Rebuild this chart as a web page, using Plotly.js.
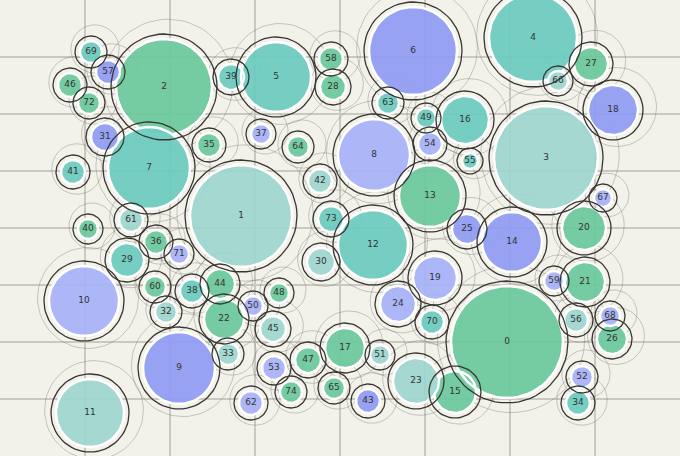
<!DOCTYPE html>
<html>
<head>
<meta charset="utf-8">
<script src="https://cdn.plot.ly/plotly-3.0.1.min.js"></script>
<style>html,body{margin:0;padding:0;background:#f3f2ea;}#chart{width:680px;height:456px;}</style>
</head>
<body>
<div id="chart"></div>
<script>
// Bubble ids, centres, radii and colour groups
const ids = [0,1,2,3,4,5,6,7,8,9,10,11,12,13,14,15,16,17,18,19,20,21,22,23,24,25,26,27,28,29,30,31,32,33,34,35,36,37,38,39,40,41,42,43,44,45,46,47,48,49,50,51,52,53,54,55,56,57,58,59,60,61,62,63,64,65,66,67,68,69,70,71,72,73,74];
const cx = [507,241,164,546,533,276,413,149,374,179,84,90,373,430,512,455,465,345,613,435,584,585,224,416,398,467,612,591,333,127,321,105,166,228,578,209,156,261,192,231,88,73,320,368,220,273,70,308,279,426,253,380,582,274,430,470,576,108,331,554,155,131,251,388,298,334,558,603,610,91,432,179,89,331,291];
const cy = [342,216,87,158,38,77,51,168,155,368,301,413,245,196,242,392,120,348,110,278,228,282,319,381,304,229,339,64,87,260,262,137,312,354,403,145,242,134,291,77,229,172,181,401,284,329,85,360,293,118,306,355,377,368,144,161,320,72,59,281,287,220,403,103,147,388,81,198,316,52,322,254,103,219,392];
const radius = [56,51,48,52,44,35,44,41,36,36,35,34,35,31,30,21,24,20,25,22,22,20,20,23,18,15,15,17,13,17,14,14,11,11,12,12,12,10,12,13,10,12,12,12,15,13,12,13,10,10,10,10,11,12,12,8,12,12,12,10,11,12,12,11,11,11,10,9,10,11,12,10,11,13,11];
const group = ['green','lteal','green','lteal','teal','teal','blue','teal','lblue','blue','lblue','lteal','teal','green','blue','green','teal','green','blue','lblue','green','green','green','lteal','lblue','blue','green','green','green','teal','lteal','blue','lteal','lteal','teal','green','green','lblue','teal','teal','green','teal','lteal','blue','green','lteal','green','green','green','teal','lblue','lteal','lblue','lblue','lblue','teal','lteal','blue','green','lblue','green','lteal','lblue','teal','green','green','lteal','lblue','lblue','teal','teal','lblue','green','teal','green'];

const palette = {green:'rgba(108,201,156,0.93)', teal:'rgba(108,203,192,0.93)', lteal:'rgba(157,214,207,0.93)', blue:'rgba(143,156,243,0.93)', lblue:'rgba(167,179,249,0.93)'};

function ring(xc, yc, rr, n, xs, ys) {
  for (let k = 0; k <= n; k++) {
    const t = 2 * Math.PI * k / n;
    xs.push(xc + rr * Math.cos(t));
    ys.push(yc + rr * Math.sin(t));
  }
  xs.push(null); ys.push(null);
}

const traces = [];
// faint sketch lines around each bubble
const gx = [], gy = [];
ids.forEach((id, i) => {
  ring(cx[i] + 4, cy[i] - 3, radius[i] * 1.1 + 12, 60, gx, gy);
});
traces.push({type:'scatter', mode:'lines', x:gx, y:gy, line:{color:'rgba(110,110,105,0.45)', width:0.8}, hoverinfo:'skip', showlegend:false});

// fills per colour group
Object.keys(palette).forEach(g => {
  const xs = [], ys = [];
  ids.forEach((id, i) => { if (group[i] === g) ring(cx[i], cy[i], radius[i], 64, xs, ys); });
  traces.push({type:'scatter', mode:'lines', x:xs, y:ys, fill:'toself', fillcolor:palette[g], line:{color:'#ffffff', width:2.5}, hoverinfo:'skip', showlegend:false});
});

// dark outlines
const ox = [], oy = [];
ids.forEach((id, i) => ring(cx[i], cy[i], radius[i] + 5, 64, ox, oy));
traces.push({type:'scatter', mode:'lines', x:ox, y:oy, line:{color:'#383633', width:1.3}, hoverinfo:'skip', showlegend:false});

// labels
traces.push({type:'scatter', mode:'text', x:cx, y:cy, text:ids.map(String), textfont:{family:'DejaVu Sans, sans-serif', size:9, color:'#333333'}, hoverinfo:'skip', showlegend:false});

const layout = {
  width:680, height:456,
  margin:{l:0, r:0, t:0, b:0},
  paper_bgcolor:'#f3f2ea', plot_bgcolor:'#f3f2ea',
  xaxis:{range:[0,680], dtick:85, tick0:0, showticklabels:false, ticks:'', zeroline:false, showline:false, gridcolor:'#cac8bf', gridwidth:1.4, fixedrange:true},
  yaxis:{range:[456,0], dtick:57, tick0:0, showticklabels:false, ticks:'', zeroline:false, showline:false, gridcolor:'#cac8bf', gridwidth:1.4, fixedrange:true},
  showlegend:false
};
Plotly.newPlot('chart', traces, layout, {staticPlot:true, displayModeBar:false});
</script>
</body>
</html>
